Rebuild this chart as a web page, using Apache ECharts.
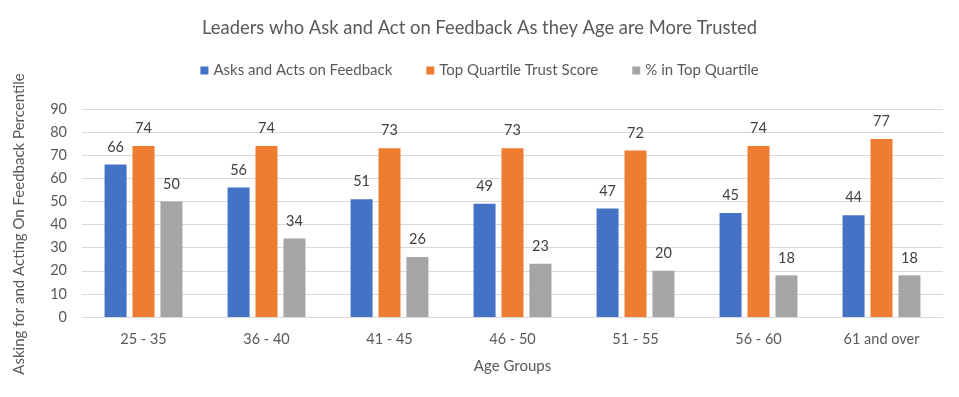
<!DOCTYPE html>
<html><head><meta charset="utf-8">
<script src="https://cdn.jsdelivr.net/npm/echarts@6/dist/echarts.min.js"></script>
<style>html,body{margin:0;padding:0;background:#fff}#c{width:959px;height:397px}</style>
</head><body><div id="c"></div>
<script>
const categories = ['25 - 35','36 - 40','41 - 45','46 - 50','51 - 55','56 - 60','61 and over'];
const asksActs = [66,56,51,49,47,45,44];
const topTrust = [74,74,73,73,72,74,77];
const pctTop = [50,34,26,23,20,18,18];
const seriesNames = ['Asks and Acts on Feedback','Top Quartile Trust Score','% in Top Quartile'];
const colors = ['#4472C4','#ED7D31','#A5A5A5'];
const FONT = 'Lato';
const chart = echarts.init(document.getElementById('c'));
function mk(name, data, color){
  return {name, type:'bar', data, barWidth:22, barGap:'27%',
    itemStyle:{color},
    label:{show:true, position:'top', distance:10, color:'#404040', fontSize:14.5, fontFamily:FONT}};
}
chart.setOption({
  animation:false,
  textStyle:{fontFamily:FONT},
  title:{text:'Leaders who Ask and Act on Feedback As they Age are More Trusted', left:'center', top:14,
    textStyle:{color:'#595959', fontSize:18.4, fontWeight:'normal', fontFamily:FONT}},
  legend:{top:58, left:'center', itemWidth:8, itemHeight:8, itemGap:34, icon:'rect',
    textStyle:{color:'#595959', fontSize:15, fontFamily:FONT}},
  grid:{left:82, right:16, top:109, bottom:80},
  xAxis:{type:'category', data:categories, name:'Age Groups', nameLocation:'middle', nameGap:42,
    nameTextStyle:{color:'#595959', fontSize:15, fontFamily:FONT},
    axisLine:{lineStyle:{color:'#d9d9d9'}}, axisTick:{show:false},
    axisLabel:{color:'#595959', fontSize:14.5, margin:15, fontFamily:FONT}},
  yAxis:{type:'value', min:0, max:90, interval:10, name:'Asking for and Acting On Feedback Percentile',
    nameLocation:'middle', nameGap:55, nameRotate:90,
    nameTextStyle:{color:'#595959', fontSize:15, fontFamily:FONT, padding:[0,22,0,0]},
    axisLine:{show:false}, axisTick:{show:false},
    axisLabel:{color:'#595959', fontSize:14.5, margin:15, fontFamily:FONT},
    splitLine:{lineStyle:{color:'#d9d9d9'}}},
  series:[mk(seriesNames[0], asksActs, colors[0]), mk(seriesNames[1], topTrust, colors[1]), mk(seriesNames[2], pctTop, colors[2])]
});
</script></body></html>
